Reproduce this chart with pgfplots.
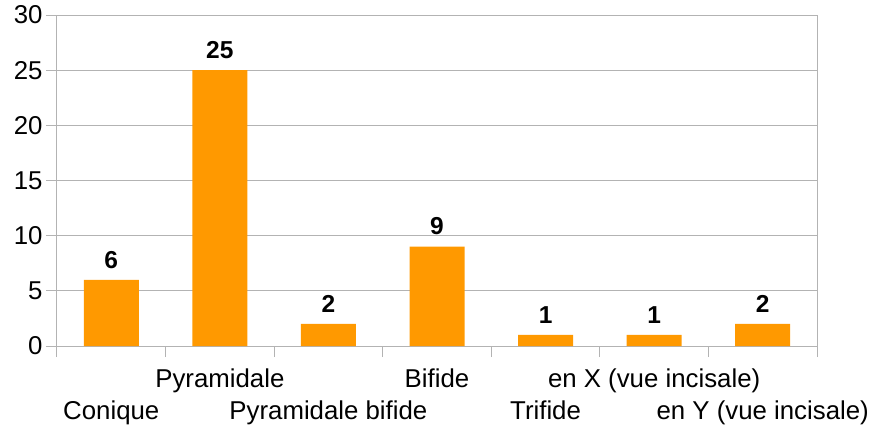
\documentclass[border=0pt]{standalone}
\usepackage{fontspec}
\setmainfont{Liberation Sans}
\usepackage{pgfplots}
\pgfplotsset{compat=1.18}
\definecolor{barorange}{HTML}{FF9900}
\definecolor{gridgray}{HTML}{B3B3B3}
\begin{document}
\begin{tikzpicture}
\path[use as bounding box] (-57pt,-86pt) rectangle (815pt,346pt);
\begin{axis}[
  scale only axis, width=760pt, height=331pt,
  at={(0,0)}, anchor=south west,
  xmin=-0.5, xmax=6.5, ymin=0, ymax=30,
  ytick={0,5,10,15,20,25,30},
  xtick={-0.5,0.5,1.5,2.5,3.5,4.5,5.5,6.5},
  x tick label as interval,
  xticklabels={{\strut\\\strut Conique},{\strut Pyramidale\\\strut},{\strut\\\strut Pyramidale bifide},{\strut Bifide\\\strut},{\strut\\\strut Trifide},{\strut en X (vue incisale)\\\strut},{\strut\\\strut en Y (vue incisale)}},
  xticklabel style={align=center, font=\fontsize{25.8}{31.5}\selectfont, yshift=-5pt},
  yticklabel style={font=\fontsize{25.8}{30}\selectfont},
  /pgf/number format/assume math mode=true,
  tick align=outside, xtick pos=bottom, ytick pos=left,
  major tick length=11pt,
  tick style={gridgray, line width=1pt},
  ymajorgrids, grid style={gridgray, line width=1pt},
  axis line style={gridgray, line width=1pt},
  ybar, bar width=55pt,
  nodes near coords,
  nodes near coords style={font=\fontsize{24.5}{24.5}\selectfont\bfseries, black, yshift=8pt},
]
\addplot[fill=barorange, draw=none] coordinates {(0,6)(1,25)(2,2)(3,9)(4,1)(5,1)(6,2)};
\end{axis}
\end{tikzpicture}
\end{document}
